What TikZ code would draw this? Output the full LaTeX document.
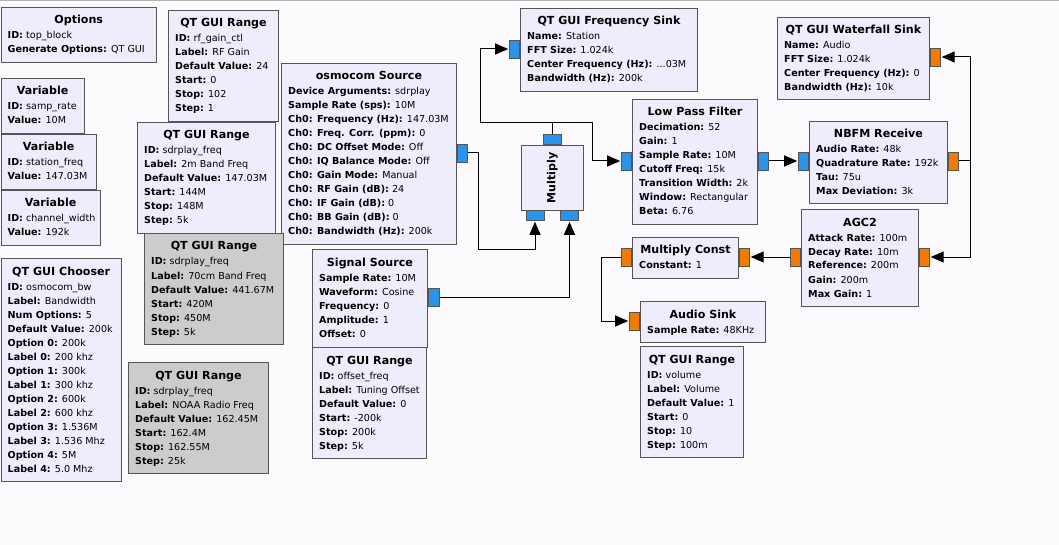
\documentclass[tikz,border=0pt]{standalone}
\usepackage{fontspec}
\setmainfont{DejaVu Sans}
\usetikzlibrary{arrows.meta,calc}
\definecolor{bg}{RGB}{253,250,253}
\definecolor{blk}{RGB}{238,237,252}
\definecolor{dis}{RGB}{204,204,204}
\definecolor{edge}{RGB}{85,85,85}
\definecolor{cplx}{RGB}{40,148,238}
\definecolor{flt}{RGB}{242,123,0}
\tikzset{
  blockbox/.style={draw=edge, fill=blk, line width=0.9pt, inner sep=0pt},
  disbox/.style={blockbox, fill=dis},
  titletext/.style={font=\fontsize{11.1}{13}\selectfont\bfseries, inner sep=0pt},
  bodytext/.style={font=\fontsize{9.6}{14}\selectfont, inner sep=0pt},
  portc/.style={draw=edge, fill=cplx, line width=0.8pt, inner sep=0pt, minimum width=10pt, minimum height=18pt},
  portf/.style={portc, fill=flt},
  vportc/.style={portc, minimum width=18pt, minimum height=10pt},
  wire/.style={draw=black, line width=1pt},
  conn/.style={wire, shorten >=1pt, -{Triangle[length=13pt,width=11pt]}},
}
\newcommand\tdots{.{}.{}.}
% name, x, y, w, h, style, title, lines
\newcommand\gblock[8]{%
  \node[#6, minimum width=#4pt, minimum height=#5pt, anchor=north west] (#1) at (#2,#3) {};
  \node[titletext, anchor=base] at ($(#1.north)+(0,17)$) {#7};
  \foreach \ln [count=\i from 0] in {#8} {
    \node[bodytext, anchor=base west] at ($(#1.north west)+(7,32+14*\i)$) {\ln};
  }
}
\begin{document}
\begin{tikzpicture}[x=1pt,y=-1pt]
\useasboundingbox (0,0) rectangle (1059,545);
\fill[bg] (0,0) rectangle (1059,545);
\draw[black!30, line width=1.5pt] (0,0.75) -- (1059,0.75);

\gblock{opt}{0.5}{7}{155.5}{55}{blockbox}{Options}{\textbf{ID:} top\_block, \textbf{Generate Options:} QT GUI}
\gblock{var1}{0.5}{78}{83.5}{55}{blockbox}{Variable}{\textbf{ID:} samp\_rate, \textbf{Value:} 10M}
\gblock{var2}{0.5}{134}{95.5}{55}{blockbox}{Variable}{\textbf{ID:} station\_freq, \textbf{Value:} 147.03M}
\gblock{var3}{0.5}{190}{99.5}{55}{blockbox}{Variable}{\textbf{ID:} channel\_width, \textbf{Value:} 192k}
\gblock{chooser}{0.5}{258}{120.5}{223}{blockbox}{QT GUI Chooser}{\textbf{ID:} osmocom\_bw, \textbf{Label:} Bandwidth, \textbf{Num Options:} 5, \textbf{Default Value:} 200k, \textbf{Option 0:} 200k, \textbf{Label 0:} 200 khz, \textbf{Option 1:} 300k, \textbf{Label 1:} 300 khz, \textbf{Option 2:} 600k, \textbf{Label 2:} 600 khz, \textbf{Option 3:} 1.536M, \textbf{Label 3:} 1.536 Mhz, \textbf{Option 4:} 5M, \textbf{Label 4:} 5.0 Mhz}

\gblock{rfgain}{168}{10}{110}{111}{blockbox}{QT GUI Range}{\textbf{ID:} rf\_gain\_ctl, \textbf{Label:} RF Gain, \textbf{Default Value:} 24, \textbf{Start:} 0, \textbf{Stop:} 102, \textbf{Step:} 1}
\gblock{osmo}{281}{63}{175}{181}{blockbox}{osmocom Source}{\textbf{Device Arguments:} sdrplay, \textbf{Sample Rate (sps):} 10M, \textbf{Ch0: Frequency (Hz):} 147.03M, \textbf{Ch0: Freq. Corr. (ppm):} 0, \textbf{Ch0: DC Offset Mode:} Off, \textbf{Ch0: IQ Balance Mode:} Off, \textbf{Ch0: Gain Mode:} Manual, \textbf{Ch0: RF Gain (dB):} 24, \textbf{Ch0: IF Gain (dB):} 0, \textbf{Ch0: BB Gain (dB):} 0, \textbf{Ch0: Bandwidth (Hz):} 200k}
\gblock{r70}{144}{233}{139}{111}{disbox}{QT GUI Range}{\textbf{ID:} sdrplay\_freq, \textbf{Label:} 70cm Band Freq, \textbf{Default Value:} 441.67M, \textbf{Start:} 420M, \textbf{Stop:} 450M, \textbf{Step:} 5k}
\gblock{r2m}{137}{122}{138}{111}{blockbox}{QT GUI Range}{\textbf{ID:} sdrplay\_freq, \textbf{Label:} 2m Band Freq, \textbf{Default Value:} 147.03M, \textbf{Start:} 144M, \textbf{Stop:} 148M, \textbf{Step:} 5k}
\gblock{noaa}{128}{362}{140}{111}{disbox}{QT GUI Range}{\textbf{ID:} sdrplay\_freq, \textbf{Label:} NOAA Radio Freq, \textbf{Default Value:} 162.45M, \textbf{Start:} 162.4M, \textbf{Stop:} 162.55M, \textbf{Step:} 25k}
\gblock{sig}{312}{249}{115}{98}{blockbox}{Signal Source}{\textbf{Sample Rate:} 10M, \textbf{Waveform:} Cosine, \textbf{Frequency:} 0, \textbf{Amplitude:} 1, \textbf{Offset:} 0}
\gblock{offs}{312}{347}{114}{111}{blockbox}{QT GUI Range}{\textbf{ID:} offset\_freq, \textbf{Label:} Tuning Offset, \textbf{Default Value:} 0, \textbf{Start:} -200k, \textbf{Stop:} 200k, \textbf{Step:} 5k}
\gblock{fsink}{520}{8}{177}{83}{blockbox}{QT GUI Frequency Sink}{\textbf{Name:} Station, \textbf{FFT Size:} 1.024k, \textbf{Center Frequency (Hz):} \tdots03M, \textbf{Bandwidth (Hz):} 200k}
\gblock{lpf}{632}{99}{125}{125}{blockbox}{Low Pass Filter}{\textbf{Decimation:} 52, \textbf{Gain:} 1, \textbf{Sample Rate:} 10M, \textbf{Cutoff Freq:} 15k, \textbf{Transition Width:} 2k, \textbf{Window:} Rectangular, \textbf{Beta:} 6.76}
\gblock{wf}{777}{17}{152}{82}{blockbox}{QT GUI Waterfall Sink}{\textbf{Name:} Audio, \textbf{FFT Size:} 1.024k, \textbf{Center Frequency (Hz):} 0, \textbf{Bandwidth (Hz):} 10k}
\gblock{nbfm}{809}{121}{138}{82}{blockbox}{NBFM Receive}{\textbf{Audio Rate:} 48k, \textbf{Quadrature Rate:} 192k, \textbf{Tau:} 75u, \textbf{Max Deviation:} 3k}
\gblock{agc}{801}{209}{117}{97}{blockbox}{AGC2}{\textbf{Attack Rate:} 100m, \textbf{Decay Rate:} 10m, \textbf{Reference:} 200m, \textbf{Gain:} 200m, \textbf{Max Gain:} 1}
\gblock{mc}{632}{237}{106}{41}{blockbox}{Multiply Const}{\textbf{Constant:} 1}
\gblock{as}{640}{301}{125}{41}{blockbox}{Audio Sink}{\textbf{Sample Rate:} 48KHz}
\gblock{vol}{640}{346}{103}{111}{blockbox}{QT GUI Range}{\textbf{ID:} volume, \textbf{Label:} Volume, \textbf{Default Value:} 1, \textbf{Start:} 0, \textbf{Stop:} 10, \textbf{Step:} 100m}

% Multiply block
\node[blockbox, minimum width=62pt, minimum height=65pt, anchor=north west] (mult) at (521,145) {};
\node[titletext, rotate=90] at (mult.center) {Multiply};

% ports
\node[portc, anchor=west] (osmo_out) at (osmo.east |- 0,153) {};
\node[portc, anchor=west, minimum width=11pt] (sig_out) at (sig.east |- 0,297) {};
\node[vportc, anchor=south] (m_out) at (552,145) {};
\node[vportc, anchor=north] (m_in0) at (535,210) {};
\node[vportc, anchor=north] (m_in1) at (569.5,210) {};
\node[portc, anchor=east] (fs_in) at (fsink.west |- 0,49) {};
\node[portc, anchor=east] (lpf_in) at (lpf.west |- 0,161) {};
\node[portc, anchor=west] (lpf_out) at (lpf.east |- 0,161) {};
\node[portc, anchor=east] (nb_in) at (nbfm.west |- 0,161) {};
\node[portf, anchor=west] (nb_out) at (nbfm.east |- 0,161) {};
\node[portf, anchor=west] (wf_in) at (wf.east |- 0,57) {};
\node[portf, anchor=west] (agc_in) at (agc.east |- 0,257) {};
\node[portf, anchor=east] (agc_out) at (agc.west |- 0,257) {};
\node[portf, anchor=west] (mc_in) at (mc.east |- 0,257) {};
\node[portf, anchor=east] (mc_out) at (mc.west |- 0,257) {};
\node[portf, anchor=east] (as_in) at (as.west |- 0,321) {};

% connections
\draw[conn] (osmo_out.east) -- ++(11,0) |- ([yshift=-29pt]m_in0.south) -- (m_in0.south);
\draw[conn] (sig_out.east) -| (m_in1.south);
\coordinate (jm) at ([yshift=12pt]m_out.north);
\draw[wire] (m_out.north) -- (jm);
\draw[conn] (jm) -| ([xshift=-29pt]fs_in.west) -- (fs_in.west);
\draw[conn] (jm) -| ([xshift=-29pt]lpf_in.west) -- (lpf_in.west);
\draw[conn] (lpf_out.east) -- (nb_in.west);
\coordinate (jn) at ([xshift=12pt]nb_out.east);
\draw[wire] (nb_out.east) -- (jn);
\draw[conn] (jn) |- (wf_in.east);
\draw[conn] (jn) |- (agc_in.east);
\draw[conn] (agc_out.west) -- (mc_in.east);
\draw[conn] (mc_out.west) -- ++(-20,0) |- (as_in.west);
\end{tikzpicture}
\end{document}
